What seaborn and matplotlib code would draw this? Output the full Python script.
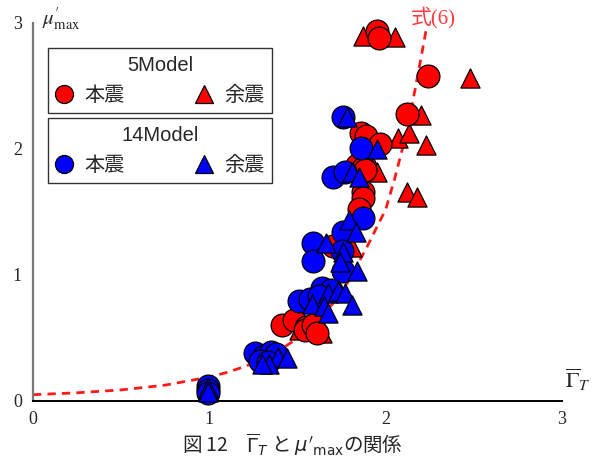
import numpy as np
import pandas as pd
import matplotlib
matplotlib.use("Agg")
import matplotlib.pyplot as plt
from matplotlib.lines import Line2D
import seaborn as sns

# 5Model 本震 (red circles)
m5_main_x = [1.95, 1.96, 2.24, 2.12, 1.86, 1.89, 1.97, 1.84, 1.87, 1.88, 1.87, 1.87, 1.85,
             1.70, 1.41, 1.48, 1.55, 1.54, 1.59, 1.61]
m5_main_y = [2.94, 2.88, 2.58, 2.28, 2.13, 2.10, 2.04, 1.87, 1.85, 1.83, 1.66, 1.61, 1.52,
             1.23, 0.60, 0.64, 0.59, 0.56, 0.60, 0.54]
# 5Model 余震 (red triangles)
m5_after_x = [1.87, 2.05, 2.48, 2.20, 2.07, 2.13, 2.23, 2.12, 2.18, 1.93, 1.95, 1.81, 1.64, 1.51]
m5_after_y = [2.90, 2.89, 2.56, 2.27, 2.09, 2.13, 2.03, 1.66, 1.62, 1.86, 1.82, 1.22, 0.54, 0.56]
# 14Model 本震 (blue circles)
m14_main_x = [1.76, 1.86, 1.70, 1.77, 1.87, 1.76, 1.59, 1.59, 1.75, 1.76, 1.64, 1.69, 1.51,
              1.57, 1.62, 1.26, 1.31, 1.35, 1.38, 1.29, 1.33, 0.99, 0.99, 0.99]
m14_main_y = [2.25, 2.01, 1.78, 1.82, 1.45, 1.34, 1.25, 1.11, 1.19, 1.03, 0.90, 0.88, 0.79,
              0.81, 0.83, 0.38, 0.36, 0.39, 0.37, 0.32, 0.31, 0.12, 0.09, 0.06]
# 14Model 余震 (blue triangles)
m14_after_x = [1.78, 1.95, 1.81, 1.85, 1.79, 1.83, 1.66, 1.76, 1.74, 1.84, 1.67, 1.73, 1.77,
               1.81, 1.58, 1.65, 1.67, 1.39, 1.44, 1.34, 1.30, 0.99, 0.99]
m14_after_y = [2.25, 2.00, 1.82, 1.78, 1.44, 1.34, 1.25, 1.18, 1.10, 1.03, 0.86, 0.87, 0.86,
               0.76, 0.77, 0.75, 0.70, 0.35, 0.34, 0.29, 0.29, 0.10, 0.07]

# 式(6) curve, points
eq_x = [0.0, 0.25, 0.5, 0.75, 1.0, 1.1, 1.2, 1.3, 1.4, 1.5, 1.6, 1.7, 1.8, 1.9, 2.0, 2.05,
        2.1, 2.15, 2.2, 2.23]
eq_y = [0.05, 0.065, 0.088, 0.126, 0.19, 0.227, 0.273, 0.331, 0.404, 0.498, 0.618, 0.773,
        0.974, 1.24, 1.52, 1.76, 2.03, 2.35, 2.72, 2.95]

sns.set_style("white")
plt.rcParams['font.family'] = ['Liberation Sans', 'Noto Sans CJK JP']

fig = plt.figure(figsize=(5.96, 4.66), dpi=100)
ax = fig.add_axes([0.0554, 0.1395, 0.8876, 0.8112])

sns.lineplot(x=eq_x, y=eq_y, ax=ax, color='#ff1a1a', lw=2, dashes=False,
             linestyle=(0, (3, 2.2)), zorder=2, sort=False)

series = [
    (m5_after_x, m5_after_y, 'red', '^', 190),
    (m5_main_x, m5_main_y, 'red', 'o', 270),
    (m14_main_x, m14_main_y, 'blue', 'o', 270),
    (m14_after_x, m14_after_y, 'blue', '^', 190),
]
for i, (xs, ys, col, mk, sz) in enumerate(series):
    sns.scatterplot(x=xs, y=ys, ax=ax, color=col, marker=mk, s=sz, edgecolor='black',
                    linewidth=0.9, zorder=3 + i, legend=False, clip_on=False)

ax.set_xlim(0, 3)
ax.set_ylim(0, 3)
ax.set_xticks([0, 1, 2, 3])
ax.set_xticks([0.5, 1.5, 2.5], minor=True)
ax.set_yticks([0, 1, 2, 3])
ax.set_yticks([0.5, 1.5, 2.5], minor=True)
for s in ['top', 'right']:
    ax.spines[s].set_visible(False)
ax.spines['left'].set_color('#777777')
ax.spines['left'].set_linewidth(1.6)
ax.spines['bottom'].set_color('black')
ax.spines['bottom'].set_linewidth(1.4)
ax.tick_params(axis='x', which='both', direction='in', length=5, width=1, color='black',
               pad=7)
ax.tick_params(axis='y', which='both', direction='out', length=5, width=1, color='#555555',
               pad=3)
for lab in ax.get_xticklabels() + ax.get_yticklabels():
    lab.set_fontfamily('Liberation Serif')
    lab.set_fontsize(13)

ax.text(0.017, 1.012, r"$\mu^{\prime}_{\rm max}$", transform=ax.transAxes, fontsize=15,
        math_fontfamily='stix', ha='left', va='center')
ax.text(1.005, 0.055, r"$\overline{\mathit{\Gamma}}_{T}$", transform=ax.transAxes,
        fontsize=16, math_fontfamily='stix', ha='left', va='center')
ax.text(2.14, 3.04, "式(6)", color='#ff3b3b', fontsize=15, ha='left', va='center',
        family=['Liberation Serif', 'Noto Sans CJK JP'], clip_on=False)


def model_legend(title, col, y):
    handles = [
        Line2D([], [], ls='none', marker='o', ms=13, mfc=col, mec='black', mew=0.9),
        Line2D([], [], ls='none', marker='^', ms=13, mfc=col, mec='black', mew=0.9),
    ]
    leg = ax.legend(handles, ['本震', '余震'], title=title, ncol=2, loc='upper left',
                    bbox_to_anchor=(0.028, y), bbox_transform=ax.transAxes,
                    fontsize=14.5, title_fontsize=14.5, frameon=True, fancybox=False,
                    edgecolor='#333333', handlelength=0.8, handletextpad=0.6,
                    columnspacing=3.55, borderpad=0.4, labelspacing=0.55,
                    borderaxespad=0)
    leg.get_frame().set_linewidth(1.0)
    leg.get_frame().set_alpha(1)
    leg.set_zorder(10)
    return leg


leg1 = model_legend('5Model', 'red', 0.934)
ax.add_artist(leg1)
model_legend('14Model', 'blue', 0.749)

fig.text(0.49, 0.046, "図 12　$\\overline{\\mathit{\\Gamma}}_{T}$ と $\\mu'_{\\rm max}$の関係",
         ha='center', va='center', fontsize=14, math_fontfamily='dejavusans',
         family='Noto Sans CJK JP')

fig.savefig('out.png', dpi=100)
